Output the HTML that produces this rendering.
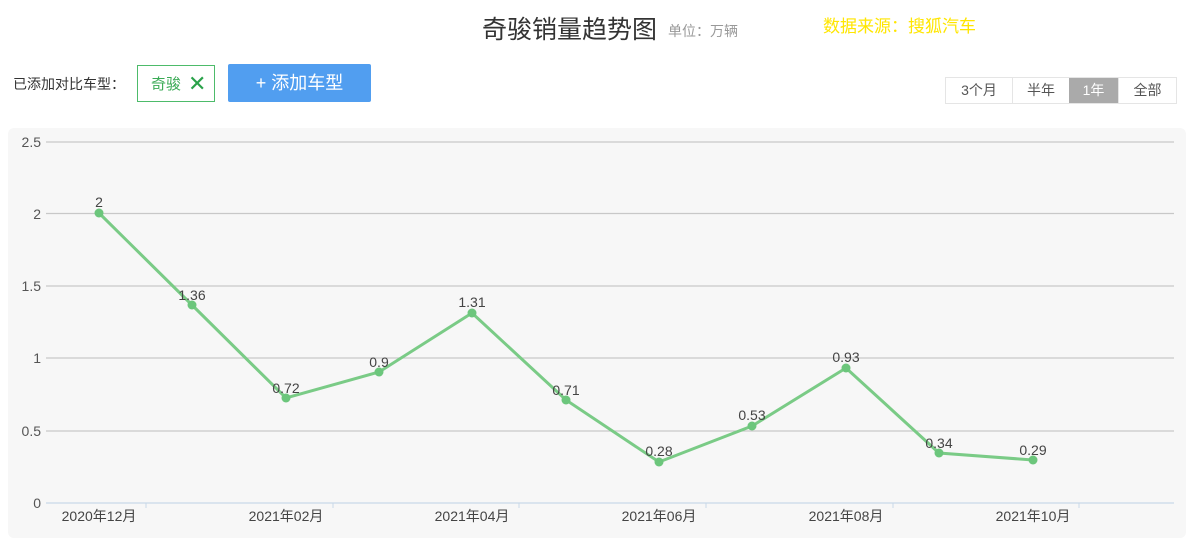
<!DOCTYPE html>
<html><head><meta charset="utf-8"><style>
body{margin:0;width:1200px;height:546px;background:#fff;font-family:"Liberation Sans","Noto Sans CJK SC",sans-serif;position:relative;overflow:hidden}
.a{position:absolute;white-space:nowrap}
</style></head><body>
<div class="a" style="left:482px;top:10px;font-size:25px;color:#333">奇骏销量趋势图</div>
<div class="a" style="left:668px;top:21px;font-size:14px;color:#999">单位：万辆</div>
<div class="a" style="left:823px;top:12px;font-size:17px;color:#ffe600">数据来源：搜狐汽车</div>
<div class="a" style="left:13px;top:74px;font-size:14px;color:#333">已添加对比车型：</div>
<div class="a" style="left:137px;top:65px;width:78px;height:37px;border:1px solid #4dbb6a;box-sizing:border-box"></div>
<div class="a" style="left:151px;top:73px;font-size:15px;color:#3aaa55">奇骏</div>
<div class="a" style="left:188px;top:71px;font-size:22px;color:#2aa24a;line-height:26px">✕</div>
<div class="a" style="left:228px;top:64px;width:143px;height:38px;background:#519ef0;border-radius:2px;color:#fff;font-size:18px;text-align:center;line-height:38px">+ 添加车型</div>
<div class="a" style="left:945px;top:77px;height:25px;border:1px solid #e5e5e5;display:flex;font-size:14px;color:#555;line-height:25px">
<div style="width:66px;text-align:center;border-right:1px solid #e5e5e5">3个月</div>
<div style="width:56px;text-align:center">半年</div>
<div style="width:49px;text-align:center;background:#aaa;color:#fff">1年</div>
<div style="width:57px;text-align:center;border-left:1px solid #e5e5e5">全部</div>
</div>
<div class="a" style="left:8px;top:128px;width:1178px;height:410px;background:#f7f7f7;border-radius:6px"></div>
<svg class="a" style="left:0;top:0" width="1200" height="546" font-family="Liberation Sans, Noto Sans CJK SC, sans-serif">
<g stroke="#c8c8c8" stroke-width="1.2">
<line x1="46" x2="1174" y1="142" y2="142"/><line x1="46" x2="1174" y1="213.5" y2="213.5"/>
<line x1="46" x2="1174" y1="286" y2="286"/><line x1="46" x2="1174" y1="358" y2="358"/>
<line x1="46" x2="1174" y1="431" y2="431"/></g>
<line x1="46" x2="1174" y1="503" y2="503" stroke="#c8d8e8" stroke-width="1.2"/>
<g stroke="#c8d8e8"><line x1="146" x2="146" y1="503" y2="508"/><line x1="333" x2="333" y1="503" y2="508"/><line x1="519" x2="519" y1="503" y2="508"/><line x1="706" x2="706" y1="503" y2="508"/><line x1="893" x2="893" y1="503" y2="508"/><line x1="1079" x2="1079" y1="503" y2="508"/></g>
<g font-size="14" fill="#555" text-anchor="end">
<text x="41" y="147">2.5</text><text x="41" y="219">2</text><text x="41" y="291">1.5</text><text x="41" y="363">1</text><text x="41" y="436">0.5</text><text x="41" y="508">0</text></g>
<g font-size="14" fill="#444" text-anchor="middle">
<text x="99" y="521">2020年12月</text><text x="286" y="521">2021年02月</text><text x="472" y="521">2021年04月</text><text x="659" y="521">2021年06月</text><text x="846" y="521">2021年08月</text><text x="1033" y="521">2021年10月</text></g>
<polyline fill="none" stroke="#7acb86" stroke-width="3" points="99,213 192,305 286,398 379,372 472,313 566,400 659,462 752,426 846,368 939,453 1033,460"/>
<g fill="#6cc67c">
<circle cx="99" cy="213" r="4.5"/><circle cx="192" cy="305" r="4.5"/><circle cx="286" cy="398" r="4.5"/><circle cx="379" cy="372" r="4.5"/><circle cx="472" cy="313" r="4.5"/><circle cx="566" cy="400" r="4.5"/><circle cx="659" cy="462" r="4.5"/><circle cx="752" cy="426" r="4.5"/><circle cx="846" cy="368" r="4.5"/><circle cx="939" cy="453" r="4.5"/><circle cx="1033" cy="460" r="4.5"/></g>
<g font-size="14" fill="#444" text-anchor="middle">
<text x="99" y="207">2</text><text x="192" y="300">1.36</text><text x="286" y="393">0.72</text><text x="379" y="367">0.9</text><text x="472" y="307">1.31</text><text x="566" y="395">0.71</text><text x="659" y="456">0.28</text><text x="752" y="420">0.53</text><text x="846" y="362">0.93</text><text x="939" y="448">0.34</text><text x="1033" y="455">0.29</text></g>
</svg>
</body></html>
